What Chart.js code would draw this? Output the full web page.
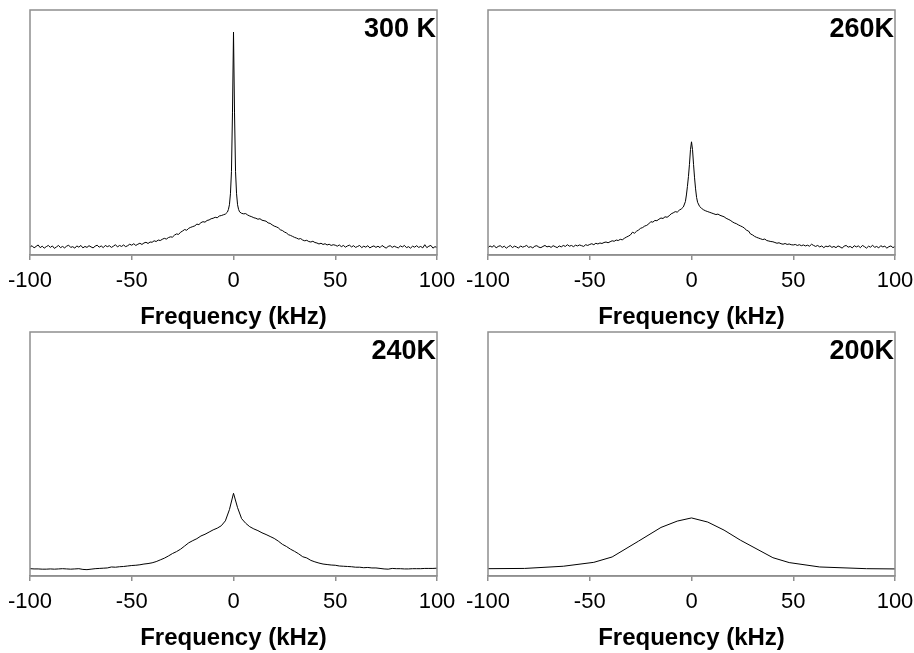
<!DOCTYPE html>
<html>
<head>
<meta charset="utf-8">
<script src="https://cdn.jsdelivr.net/npm/chart.js@4.4.0/dist/chart.umd.min.js"></script>
<style>
  body { margin: 0; background: #fff; overflow: hidden; }
  canvas { position: absolute; }
</style>
</head>
<body>
<canvas id="p300" width="457" height="332" style="left:0;top:0"></canvas>
<canvas id="p260" width="456" height="332" style="left:458px;top:0"></canvas>
<canvas id="p240" width="457" height="331" style="left:0;top:322px"></canvas>
<canvas id="p200" width="456" height="331" style="left:458px;top:322px"></canvas>
<script>
// frequency grid (kHz) for the two noisy spectra
var freqFine = [-100,-99,-98,-97,-96,-95,-94,-93,-92,-91,-90,-89,-88,-87,-86,-85,-84,-83,-82,-81,
  -80,-79,-78,-77,-76,-75,-74,-73,-72,-71,-70,-69,-68,-67,-66,-65,-64,-63,-62,-61,
  -60,-59,-58,-57,-56,-55,-54,-53,-52,-51,-50,-49,-48,-47,-46,-45,-44,-43,-42,-41,
  -40,-39,-38,-37,-36,-35,-34,-33,-32,-31,-30,-29,-28,-27,-26,-25,-24,-23,-22,-21,
  -20,-19,-18,-17,-16,-15,-14,-13,-12,-11,-10,-9,-8,-7,-6,-5,-4,
  -3,-2.5,-2,-1.5,-1,-0.5,0,0.5,1,1.5,2,2.5,3,
  4,5,6,7,8,9,10,11,12,13,14,15,16,17,18,19,20,21,22,23,24,25,26,27,28,29,30,
  31,32,33,34,35,36,37,38,39,40,41,42,43,44,45,46,47,48,49,50,51,52,53,54,55,56,57,58,59,60,
  61,62,63,64,65,66,67,68,69,70,71,72,73,74,75,76,77,78,79,80,81,82,83,84,85,86,87,88,89,90,
  91,92,93,94,95,96,97,98,99,100];

var int300 = [3.2,3.8,2.9,3.5,4.1,3.0,3.6,2.8,3.4,3.9,
  3.1,3.7,2.7,3.3,3.9,3.0,3.5,2.9,3.6,4.0,
  3.1,3.4,2.8,3.7,3.2,3.9,2.9,3.5,3.1,3.8,
  3.3,2.9,3.6,4.0,3.2,3.7,3.0,3.9,3.4,3.8,
  3.1,3.6,4.2,3.3,3.9,3.5,4.1,3.4,3.8,4.4,
  4.0,4.6,3.9,4.4,4.8,4.3,4.9,5.2,4.7,5.3,
  5.2,5.8,5.5,6.1,5.9,6.4,6.8,6.5,7.1,7.4,
  7.3,8.1,8.6,8.4,9.3,9.8,10.4,10.1,10.9,11.3,
  11.6,11.9,12.6,12.4,13.2,13.6,13.4,14.1,14.3,14.8,
  15.0,15.4,15.2,15.9,16.1,16.4,16.7,
  17.5,18.6,20.5,25,34,58,91,58,34,25,20.5,18.6,17.6,
  17.0,16.8,16.9,16.3,15.9,15.6,15.2,
  15.0,14.6,14.8,14.2,14.0,13.8,13.1,12.9,12.3,11.8,
  11.5,11.1,10.3,10.0,9.4,9.0,8.3,8.0,7.6,7.2,
  6.9,6.5,6.7,6.1,5.8,6.0,5.5,5.3,5.6,5.1,
  4.9,4.5,4.8,4.3,4.6,4.1,4.4,3.9,4.2,4.0,
  3.6,4.1,3.4,3.9,3.2,3.7,4.0,3.3,3.8,3.1,
  3.5,3.9,3.0,3.6,3.2,3.8,2.9,3.4,3.7,3.1,
  3.6,3.0,3.9,3.3,2.8,3.5,3.8,3.1,3.6,3.2,
  2.9,3.7,3.3,3.9,3.0,3.4,2.8,3.6,3.2,3.8,
  3.1,3.5,2.9,4.2,3.0,3.6,3.9,2.8,3.4,3.1];

var int260 = [3.0,3.7,3.2,3.9,2.9,3.5,3.8,3.1,3.6,2.8,
  3.4,3.9,3.0,3.6,3.3,2.8,3.7,3.2,3.5,3.9,
  3.1,3.4,2.9,3.6,3.8,3.2,3.0,3.5,3.9,3.3,
  3.6,3.1,3.8,3.4,3.0,3.7,3.3,3.9,3.5,4.2,
  3.6,3.9,3.4,4.0,3.7,4.1,3.8,3.5,4.2,3.9,
  4.3,4.6,4.2,4.8,4.5,4.9,4.7,5.1,5.3,5.0,
  5.4,5.8,5.6,6.1,5.9,6.4,6.2,6.8,7.3,7.7,
  8.2,9.3,8.9,9.7,10.2,10.9,11.2,11.8,12.1,12.7,
  13.6,13.4,14.1,14.0,14.6,15.1,14.9,15.6,15.4,16.0,
  16.8,17.2,17.7,17.5,18.3,18.8,19.6,
  21.8,24.5,28,32,37,43,46.2,43,37,31.5,27,23.5,21.5,
  19.8,19.0,18.4,18.0,17.7,17.4,17.1,
  16.8,16.5,16.7,16.2,15.9,15.6,15.0,14.6,14.2,13.6,
  13.1,12.8,12.3,11.9,11.5,11.0,10.1,9.8,8.6,8.2,
  7.6,7.2,6.9,6.6,6.3,6.5,5.9,5.7,5.5,5.4,
  5.1,4.8,5.0,4.6,4.4,4.7,4.3,4.5,4.2,4.1,
  4.3,3.9,4.2,3.8,4.1,3.7,4.0,3.6,4.4,3.9,
  3.5,3.9,3.3,3.7,3.0,3.6,3.4,3.8,3.1,3.5,
  3.0,3.7,3.3,2.8,3.6,3.9,3.2,3.5,2.9,3.8,
  3.3,3.7,3.0,3.9,3.4,2.8,3.6,3.2,4.0,3.1,
  3.5,2.9,3.8,3.3,3.6,2.8,3.4,3.7,3.0,3.5];

// 240 K: 2 kHz grid
var freq240 = [-100,-98,-96,-94,-92,-90,-88,-86,-84,-82,-80,-78,-76,-74,-72,-70,-68,-66,-64,-62,
  -60,-58,-56,-54,-52,-50,-48,-46,-44,-42,-40,-38,-36,-34,-32,-30,-28,-26,-24,-22,
  -20,-18,-16,-14,-12,-10,-8,-6,-4,-2,0,2,4,6,8,10,12,14,16,18,20,
  22,24,26,28,30,32,34,36,38,40,42,44,46,48,50,52,54,56,58,60,
  62,64,66,68,70,72,74,76,78,80,82,84,86,88,90,92,94,96,98,100];
var int240 = [3.0,2.9,2.9,2.8,2.8,2.9,2.8,2.9,3.0,2.9,
  2.8,2.9,3.0,2.7,2.6,2.8,3.0,3.1,3.2,3.3,
  3.7,3.6,3.8,3.9,4.1,4.3,4.4,4.6,4.9,5.1,
  5.4,5.9,6.6,7.3,8.2,9.2,10.0,11.0,12.3,13.6,
  14.5,15.3,16.4,17.1,18.0,18.9,19.6,20.6,22.6,27.2,
  33.9,
  28.0,23.5,21.6,20.2,19.3,18.6,17.7,17.0,16.2,15.4,
  14.3,13.0,12.1,11.0,10.1,9.1,7.9,7.4,6.4,5.8,
  5.3,4.9,4.7,4.5,4.4,4.1,4.0,3.9,3.8,3.6,
  3.6,3.4,3.5,3.3,3.3,3.1,2.9,2.8,3.1,3.0,
  3.0,2.9,2.9,3.0,3.0,3.0,3.1,3.1,3.1,3.2];

// 200 K: coarse points
var freq200 = [-100,-82,-63,-48,-39,-26,-15,-7,0,8,16,24,40,48,63,86,100];
var int200 = [3.0,3.1,4.0,5.6,7.8,14.3,19.9,22.5,23.8,22.1,18.8,14.7,7.5,5.5,3.7,3.0,2.9];

var xTicks = [-100, -50, 0, 50, 100];

var boxPlugin = {
  id: 'box',
  afterDraw: function(chart) {
    var a = chart.chartArea, ctx = chart.ctx;
    ctx.save();
    ctx.strokeStyle = '#8f8f8f';
    ctx.lineWidth = 1.5;
    ctx.strokeRect(a.left, a.top, a.right - a.left, a.bottom - a.top);
    ctx.fillStyle = '#000';
    ctx.font = 'bold 27px "Liberation Sans", Arial, sans-serif';
    ctx.textAlign = 'right';
    ctx.textBaseline = 'alphabetic';
    ctx.fillText(chart.options.plugins.box.label, a.right - 1, a.top + 27);
    ctx.restore();
  }
};

function makePanel(id, freqs, vals, label, axisH, padRight) {
  var pts = freqs.map(function(f, i) { return { x: f, y: vals[i] }; });
  return new Chart(document.getElementById(id), {
    type: 'line',
    data: { datasets: [{ data: pts, borderColor: '#000', borderWidth: 1, pointRadius: 0, tension: 0, fill: false }] },
    plugins: [boxPlugin],
    options: {
      responsive: false,
      animation: false,
      devicePixelRatio: 1,
      layout: { padding: { left: 30, right: padRight, top: 10, bottom: 0 } },
      plugins: { legend: { display: false }, tooltip: { enabled: false }, box: { label: label } },
      scales: {
        x: {
          type: 'linear', min: -100, max: 100,
          afterBuildTicks: function(s) { s.ticks = xTicks.map(function(v) { return { value: v }; }); },
          afterFit: function(s) { s.height = axisH; s.paddingLeft = 0; s.paddingRight = 0; },
          ticks: { color: '#000', font: { family: '"Liberation Sans", Arial, sans-serif', size: 22 }, padding: 8, maxRotation: 0, autoSkip: false },
          grid: { display: true, drawOnChartArea: false, drawTicks: true, tickLength: 5, color: '#8f8f8f', lineWidth: 1.5 },
          border: { display: true, color: '#8f8f8f', width: 1.5 },
          title: { display: true, text: 'Frequency (kHz)', color: '#000', font: { family: '"Liberation Sans", Arial, sans-serif', size: 24, weight: 'bold' }, padding: { top: 0, bottom: 0 } }
        },
        y: { display: false, min: 0, max: 100 }
      }
    }
  });
}

makePanel('p300', freqFine, int300, '300 K', 77, 20);
makePanel('p260', freqFine, int260, '260K', 77, 19);
makePanel('p240', freq240, int240, '240K', 77, 20);
makePanel('p200', freq200, int200, '200K', 77, 19);
</script>
</body>
</html>
